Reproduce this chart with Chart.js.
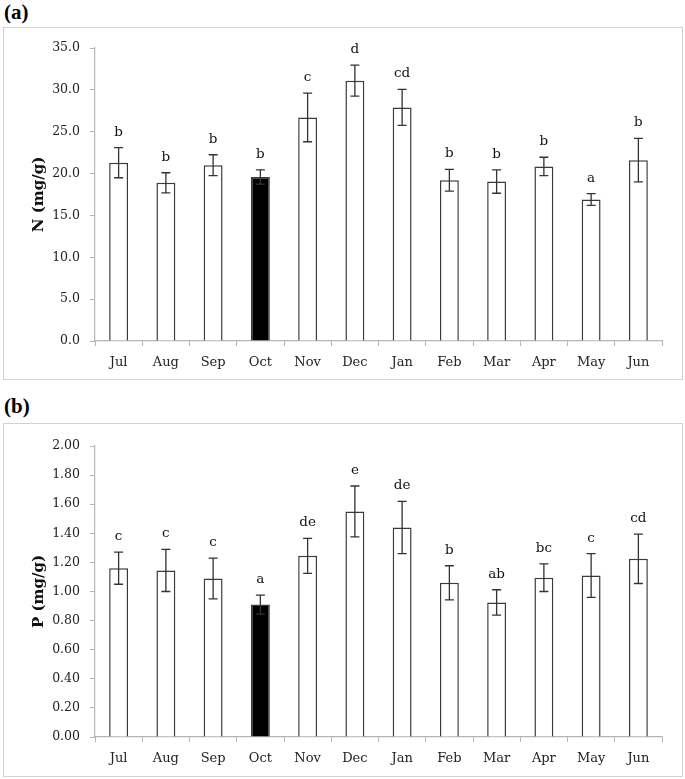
<!DOCTYPE html>
<html>
<head>
<meta charset="utf-8">
<script src="https://cdn.jsdelivr.net/npm/chart.js@4/dist/chart.umd.min.js"></script>
<style>
  html, body { margin: 0; padding: 0; background: #fff; }
  body { width: 685px; height: 779px; position: relative; overflow: hidden; }
  .frame { position: absolute; border: 1.5px solid #d2d2d2; box-sizing: border-box; }
  .plabel { position: absolute; font-family: "Liberation Serif", serif; font-weight: bold; font-size: 21px; color: #000; }
  canvas { position: absolute; left: 0; }
</style>
</head>
<body>
<div class="plabel" style="left:4px; top:0px;">(a)</div>
<div class="frame" style="left:3px; top:27px; width:680px; height:353px;"></div>
<canvas id="cN" width="685" height="390" style="top:0px;"></canvas>

<div class="plabel" style="left:4px; top:394px;">(b)</div>
<div class="frame" style="left:3px; top:423px; width:680px; height:354px;"></div>
<canvas id="cP" width="685" height="384" style="top:395px;"></canvas>

<script>
// ---- data ----
const months = ['Jul','Aug','Sep','Oct','Nov','Dec','Jan','Feb','Mar','Apr','May','Jun'];

const nMeans   = [21.3, 18.9, 21.0, 19.6, 26.7, 31.1, 27.9, 19.2, 19.05, 20.85, 16.9, 21.6];
const nErrors  = [1.8, 1.2, 1.25, 0.85, 2.9, 1.85, 2.15, 1.3, 1.4, 1.1, 0.7, 2.6];
const nLetters = ['b','b','b','b','c','d','cd','b','b','b','a','b'];

const pMeans   = [1.16, 1.145, 1.09, 0.91, 1.245, 1.55, 1.44, 1.06, 0.925, 1.095, 1.11, 1.225];
const pErrors  = [0.11, 0.145, 0.14, 0.065, 0.12, 0.175, 0.18, 0.117, 0.087, 0.095, 0.15, 0.17];
const pLetters = ['c','c','c','a','de','e','de','b','ab','bc','c','cd'];

const nTickMax = 35, nTickStep = 5;
const pTickMax = 2, pTickStep = 0.2;
const highlightMonth = 'Oct';

const serif = '"DejaVu Serif", serif';

const errorBarPlugin = {
  id: 'errorBars',
  afterDatasetsDraw(chart, args, opts) {
    const ctx = chart.ctx;
    const meta = chart.getDatasetMeta(0);
    const y = chart.scales.y;
    const vals = chart.data.datasets[0].data;
    ctx.save();
    ctx.strokeStyle = '#333';
    ctx.lineWidth = 1.3;
    meta.data.forEach((bar, i) => {
      const v = vals[i], e = opts.errors[i];
      const yt = y.getPixelForValue(v + e);
      const yb = y.getPixelForValue(v - e);
      const x = bar.x;
      ctx.beginPath();
      ctx.moveTo(x, yt); ctx.lineTo(x, yb);
      ctx.moveTo(x - 4.5, yt); ctx.lineTo(x + 4.5, yt);
      ctx.moveTo(x - 4.5, yb); ctx.lineTo(x + 4.5, yb);
      ctx.stroke();
      ctx.fillStyle = '#111';
      ctx.font = '13.5px ' + serif;
      ctx.textAlign = 'center';
      ctx.textBaseline = 'middle';
      ctx.fillText(opts.letters[i], x, yt - opts.gap);
    });
    ctx.restore();
  }
};

function makeChart(id, means, errors, letters, maxV, step, decimals, title, padTop, xHeight) {
  return new Chart(document.getElementById(id), {
    type: 'bar',
    data: {
      labels: months,
      datasets: [{
        data: means,
        backgroundColor: months.map(m => m === highlightMonth ? '#000' : '#fff'),
        borderColor: '#3a3a3a',
        borderWidth: 1.5,
        barPercentage: 0.4,
        categoryPercentage: 1.0
      }]
    },
    options: {
      responsive: false,
      animation: false,
      devicePixelRatio: 1,
      layout: { padding: { top: padTop, right: 23, left: 0, bottom: 0 } },
      plugins: {
        legend: { display: false },
        tooltip: { enabled: false },
        errorBars: { errors: errors, letters: letters, gap: 15.5 }
      },
      scales: {
        x: {
          grid: { display: true, drawOnChartArea: false, drawTicks: true, tickLength: 5, color: '#b5b5b5', offset: true },
          border: { color: '#b5b5b5', width: 1.2 },
          ticks: { font: { family: serif, size: 13 }, color: '#222', padding: 9 },
          afterFit(s) { s.height = xHeight; }
        },
        y: {
          min: 0, max: maxV,
          grid: { display: true, drawOnChartArea: false, drawTicks: true, tickLength: 5, color: '#b5b5b5' },
          border: { color: '#b5b5b5', width: 1.2 },
          ticks: {
            stepSize: step,
            font: { family: serif, size: 12.5 }, color: '#222', padding: 10,
            callback: v => Number(v).toFixed(decimals)
          },
          title: { display: true, text: title, font: { family: serif, size: 15, weight: 'bold' }, color: '#111', padding: { top: 30, bottom: 0 } },
          afterFit(s) { s.width = 95; }
        }
      }
    },
    plugins: [errorBarPlugin]
  });
}

makeChart('cN', nMeans, nErrors, nLetters, nTickMax, nTickStep, 1, 'N (mg/g)', 48, 49);
makeChart('cP', pMeans, pErrors, pLetters, pTickMax, pTickStep, 2, 'P (mg/g)', 51, 42);
</script>
</body>
</html>
